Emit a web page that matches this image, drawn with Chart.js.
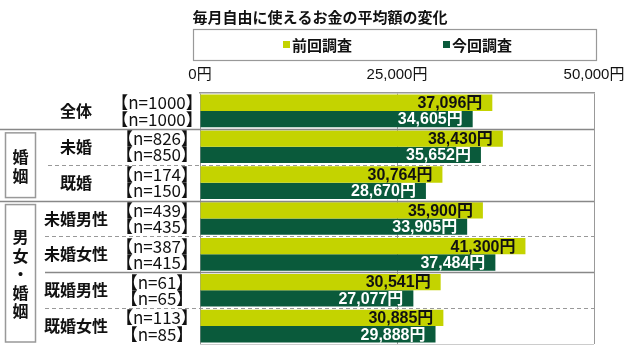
<!DOCTYPE html>
<html><head><meta charset="utf-8">
<script src="https://cdn.jsdelivr.net/npm/chart.js@4.4.1/dist/chart.umd.min.js"></script>
<style>html,body{margin:0;padding:0;background:#fff}canvas{display:block}</style>
</head><body>
<canvas id="c" width="640" height="353"></canvas>
<script>
const chartTitle = '毎月自由に使えるお金の平均額の変化';
const seriesNames = ['前回調査', '今回調査'];
const categories = ['全体', '未婚', '既婚', '未婚男性', '未婚女性', '既婚男性', '既婚女性'];
const prevValues = [37096, 38430, 30764, 35900, 41300, 30541, 30885];
const currValues = [34605, 35652, 28670, 33905, 37484, 27077, 29888];
const prevN = [1000, 826, 174, 439, 387, 61, 113];
const currN = [1000, 850, 150, 435, 415, 65, 85];
const xTicks = [0, 25000, 50000];
const groupNames = ['婚姻', '男女・婚姻'];
const groupRanges = [[1, 2], [3, 6]];

// styles
const COL_PREV = '#c4d300';
const COL_CURR = '#0a5a3b';
const JP = '"Noto Sans CJK JP", sans-serif';
const NUM = '"Liberation Sans", "Noto Sans CJK JP", sans-serif';
const separators = [
  {after: 0, dash: false, x0: 0},
  {after: 1, dash: true, x0: 48},
  {after: 2, dash: false, x0: 0},
  {after: 3, dash: true, x0: 45},
  {after: 4, dash: false, x0: 45},
  {after: 5, dash: true, x0: 45}
];
const nNumbers = [prevN, currN];

function fmt(v) { return v.toLocaleString('en-US') + '円'; }

const deco = {
  id: 'deco',
  beforeDraw(chart) {
    const ctx = chart.ctx;
    ctx.save();
    ctx.fillStyle = '#fff';
    ctx.fillRect(0, 0, chart.width, chart.height);
    ctx.restore();
  },
  afterDatasetsDraw(chart) {
    const ctx = chart.ctx;
    chart.data.datasets.forEach((ds, di) => {
      const meta = chart.getDatasetMeta(di);
      meta.data.forEach((bar, i) => {
        ctx.save();
        ctx.font = 'bold 16px ' + NUM;
        ctx.fillStyle = di === 0 ? '#111' : '#fff';
        ctx.textAlign = 'right';
        ctx.textBaseline = 'middle';
        ctx.fillText(fmt(ds.data[i]), bar.x - 10, bar.y + 1);
        ctx.restore();
      });
    });
  },
  afterDraw(chart) {
    const ctx = chart.ctx;
    const ca = chart.chartArea;
    const ys = chart.scales.y;
    const boundary = i => (ys.getPixelForValue(i) + ys.getPixelForValue(i + 1)) / 2;
    ctx.save();
    // title
    ctx.font = 'bold 15px ' + JP;
    ctx.fillStyle = '#111';
    ctx.textAlign = 'center';
    ctx.textBaseline = 'middle';
    ctx.fillText(chartTitle, 320, 17);
    // legend box
    ctx.strokeStyle = '#999';
    ctx.lineWidth = 1.2;
    ctx.strokeRect(193.5, 29.5, 403, 31);
    const legX = [283, 443];
    chart.data.datasets.forEach((ds, di) => {
      ctx.fillStyle = ds.backgroundColor;
      ctx.fillRect(legX[di], 41, 7, 7);
      ctx.fillStyle = '#111';
      ctx.font = 'bold 15px ' + JP;
      ctx.textAlign = 'left';
      ctx.fillText(ds.label, legX[di] + 9, 45);
    });
    // bottom line
    ctx.strokeStyle = '#ccc';
    ctx.lineWidth = 1;
    ctx.beginPath();
    ctx.moveTo(ca.left, ca.bottom + 0.5);
    ctx.lineTo(ca.right, ca.bottom + 0.5);
    ctx.stroke();
    // separators
    separators.forEach(s => {
      const y = Math.round(boundary(s.after)) + 0.5;
      ctx.strokeStyle = s.dash ? '#999' : '#888';
      ctx.lineWidth = s.dash ? 1 : 1.5;
      ctx.setLineDash(s.dash ? [4, 3] : []);
      ctx.beginPath();
      ctx.moveTo(s.x0, y);
      ctx.lineTo(ca.right, y);
      ctx.stroke();
    });
    ctx.setLineDash([]);
    // category labels & n labels
    categories.forEach((c, i) => {
      const yc = ys.getPixelForValue(i);
      ctx.fillStyle = '#111';
      ctx.font = 'bold 16px ' + JP;
      ctx.textAlign = 'center';
      ctx.fillText(c, 76, yc);
      chart.data.datasets.forEach((ds, di) => {
        const bar = chart.getDatasetMeta(di).data[i];
        ctx.font = '17px ' + JP;
        ctx.fillText('【n=' + nNumbers[di][i] + '】', 157, bar.y);
      });
    });
    // group boxes
    groupNames.forEach((g, gi) => {
      const [a, b] = groupRanges[gi];
      const top = boundary(a - 1) + 4;
      const bot = b + 1 < categories.length ? boundary(b) - 3 : ca.bottom - 2;
      ctx.strokeStyle = '#999';
      ctx.lineWidth = 1.5;
      ctx.strokeRect(5.5, top, 30, bot - top);
      const chars = Array.from(g);
      const step = 18.5;
      const mid = (top + bot) / 2 + 1;
      ctx.fillStyle = '#111';
      ctx.font = 'bold 16px ' + JP;
      ctx.textAlign = 'center';
      chars.forEach((ch, k) => {
        ctx.fillText(ch, 20.5, mid + (k - (chars.length - 1) / 2) * step);
      });
    });
    ctx.restore();
  }
};

new Chart(document.getElementById('c'), {
  type: 'bar',
  data: {
    labels: categories,
    datasets: [
      {label: seriesNames[0], data: prevValues, backgroundColor: COL_PREV, borderWidth: 0},
      {label: seriesNames[1], data: currValues, backgroundColor: COL_CURR, borderWidth: 0}
    ]
  },
  options: {
    indexAxis: 'y',
    responsive: false,
    animation: false,
    devicePixelRatio: 1,
    categoryPercentage: 0.91,
    barPercentage: 1.0,
    layout: {padding: {top: 62, right: 46, bottom: 9, left: 0}},
    plugins: {legend: {display: false}, title: {display: false}, tooltip: {enabled: false}},
    scales: {
      x: {
        position: 'top',
        min: xTicks[0],
        max: xTicks[xTicks.length - 1],
        afterBuildTicks: s => { s.ticks = xTicks.map(v => ({value: v})); },
        afterFit: s => { s.height = 31; },
        ticks: {
          maxRotation: 0,
          padding: 9,
          color: '#111',
          font: {family: NUM, size: 15},
          callback: v => fmt(v)
        },
        grid: {color: '#999', lineWidth: 1, drawTicks: false},
        border: {display: true, color: '#999', width: 1.5}
      },
      y: {
        afterFit: s => { s.width = 200; },
        ticks: {display: false},
        grid: {display: false, drawTicks: false},
        border: {display: false}
      }
    }
  },
  plugins: [deco]
});
</script>
</body></html>
